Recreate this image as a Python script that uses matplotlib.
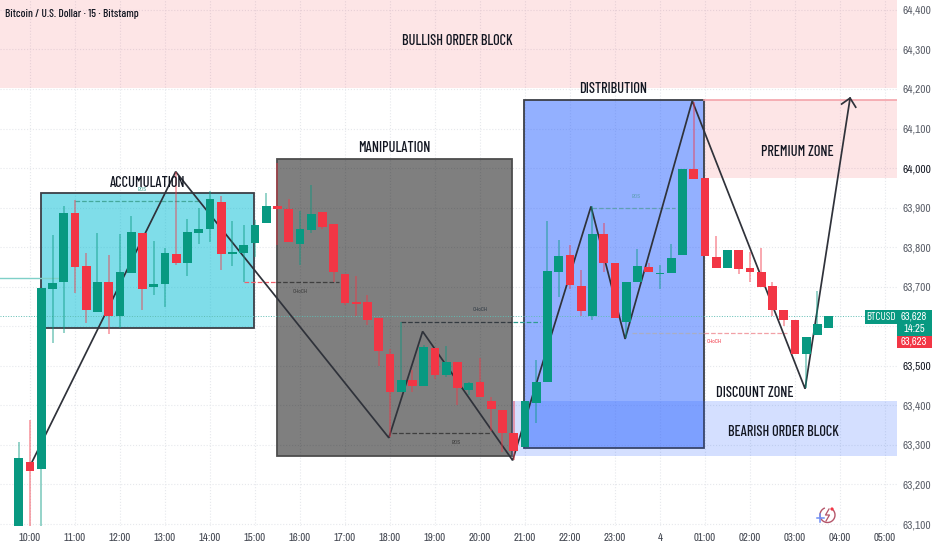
import numpy as np
import matplotlib
matplotlib.use('Agg')
import matplotlib.pyplot as plt
from matplotlib.patches import Rectangle, Circle, Arc

NARROW = ['Archivo Narrow', 'Asap Condensed', 'Roboto', 'DejaVu Sans']
CONDENSED = ['Barlow Condensed', 'Archivo Narrow', 'Roboto', 'DejaVu Sans']
plt.rcParams['font.family'] = NARROW

# Свечи: индекс 0 = 10:00, шаг 15 минут
first_idx = -1
opens = [63080, 63258, 63240, 63695, 63713, 63886, 63753, 63637, 63713, 63625, 63734, 63835, 63700, 63707, 63783,
         63760, 63837, 63846, 63913, 63784, 63786, 63810, 63862, 63905, 63897, 63808, 63844, 63888, 63859, 63733,
         63661, 63662, 63621, 63530, 63433, 63465, 63450, 63545, 63477, 63509, 63440, 63460, 63411, 63389, 63330,
         63294, 63406, 63460, 63738, 63779, 63703, 63625, 63834, 63760, 63611, 63711, 63750, 63731, 63734, 63781,
         63997, 63974, 63776, 63747, 63793, 63747, 63738, 63701, 63642, 63617, 63530, 63577, 63596]
highs = [63308, 63364, 63697, 63831, 63905, 63920, 63786, 63837, 63781, 63833, 63879, 63835, 63816, 63798, 63991,
         63871, 63899, 63943, 63930, 63865, 63855, 63869, 63938, 64013, 63921, 63892, 63958, 63888, 63859, 63733,
         63726, 63678, 63621, 63542, 63612, 63490, 63553, 63545, 63551, 63509, 63460, 63521, 63421, 63389, 63410,
         63410, 63515, 63867, 63819, 63806, 63743, 63903, 63862, 63760, 63712, 63795, 63760, 63755, 63808, 63997,
         64168, 63974, 63829, 63793, 63793, 63787, 63798, 63713, 63642, 63617, 63573, 63688, 63625]
lows = [63080, 63080, 63080, 63557, 63583, 63685, 63608, 63637, 63580, 63595, 63734, 63642, 63678, 63650, 63754,
        63728, 63808, 63813, 63743, 63753, 63712, 63776, 63862, 63806, 63813, 63754, 63835, 63846, 63711, 63655,
        63627, 63604, 63500, 63321, 63433, 63435, 63450, 63466, 63473, 63400, 63427, 63420, 63334, 63281, 63262,
        63294, 63355, 63460, 63675, 63695, 63625, 63615, 63737, 63620, 63570, 63711, 63736, 63695, 63734, 63781,
        63973, 63778, 63747, 63747, 63733, 63712, 63700, 63626, 63601, 63530, 63444, 63577, 63596]
closes = [63267, 63233, 63697, 63709, 63886, 63751, 63640, 63712, 63627, 63737, 63838, 63695, 63707, 63785, 63760,
          63838, 63846, 63921, 63784, 63787, 63806, 63855, 63905, 63897, 63813, 63846, 63884, 63852, 63738, 63660,
          63657, 63617, 63537, 63433, 63465, 63448, 63548, 63477, 63509, 63443, 63456, 63420, 63390, 63329, 63285,
          63410, 63459, 63740, 63778, 63705, 63638, 63834, 63759, 63620, 63712, 63753, 63736, 63735, 63773, 63997,
          63973, 63778, 63747, 63793, 63745, 63737, 63700, 63640, 63616, 63530, 63573, 63605, 63625]

# Зигзаг поверх графика
zig_x = [0.2, 12.95, 31.9, 34.9, 42.9, 49.87, 52.9, 58.87, 68.9, 72.9]
zig_y = [63258, 63991, 63318, 63587, 63261, 63903, 63568, 64170, 63442, 64177]
arrow_x = [72.15, 72.9, 73.4]
arrow_y = [64162, 64177, 64154]

# Подписи осей
x_ticks = list(range(0, 80, 4))
x_labels = ['10:00', '11:00', '12:00', '13:00', '14:00', '15:00', '16:00', '17:00', '18:00', '19:00',
            '20:00', '21:00', '22:00', '23:00', '4', '01:00', '02:00', '03:00', '04:00', '05:00']
y_ticks = list(range(63100, 64500, 100))
bold_prices = [64000, 63500]

last_price = 63625
left_level = 63723

x_min, x_max = -2.667, 77.07
y_min, y_max = 63095, 64425

GREEN = '#089981'
RED = '#f23645'
BLUE = '#2962ff'
DARK = '#3c3f47'

fig = plt.figure(figsize=(9.32, 5.5), dpi=100)
ax = fig.add_axes([0, 24 / 550, 897 / 932, 526 / 550])
ax.set_xlim(x_min, x_max)
ax.set_ylim(y_min, y_max)
for s in ax.spines.values():
    s.set_visible(False)

ax.set_axisbelow(True)
ax.grid(True, ls=':', color='#e6e8ec', lw=0.8)
ax.yaxis.tick_right()
ax.set_xticks(x_ticks)
ax.set_xticklabels(x_labels, fontsize=7.8, color='#3f434d')
ax.set_yticks(y_ticks)
ax.set_yticklabels([f'{p:,}' for p in y_ticks], fontsize=8.1, color='#5a5e68')
ax.tick_params(axis='y', length=0, pad=4)
ax.tick_params(axis='x', length=0, pad=5)
for lab, p in zip(ax.get_yticklabels(), y_ticks):
    if p in bold_prices:
        lab.set_color('#131722')


def zone(x0, x1, p0, p1, color, alpha, edge=None, z=1):
    ax.add_patch(Rectangle((x0, p0), x1 - x0, p1 - p0, facecolor=color, alpha=alpha,
                           edgecolor='none', zorder=z))
    if edge:
        ax.add_patch(Rectangle((x0, p0), x1 - x0, p1 - p0, facecolor='none',
                               edgecolor=edge, lw=1.3, zorder=z + 0.1))


# Зоны
zone(x_min, x_max, 64203, y_max, RED, 0.13)
zone(59.9, x_max, 63975, 64172, RED, 0.13)
ax.plot([59.9, x_max], [64172, 64172], color='#f4a3aa', lw=1.2, zorder=1.2)
zone(0.95, 19.94, 63595, 63937, '#00bcd4', 0.5, DARK)
zone(21.93, 42.87, 63271, 64022, 'black', 0.5, '#4d4d4d')
zone(43.9, 59.88, 63293, 64172, BLUE, 0.5, DARK)
zone(42.85, x_max, 63271, 63410, BLUE, 0.2, z=1.5)

# Горизонтальные уровни
ax.plot([x_min, 2.5], [left_level, left_level], color='#7fd0c8', lw=1, zorder=1.6)
ax.axhline(last_price, color='#5fbdb3', lw=0.7, ls=':', zorder=1.6)

# Пунктирные уровни CHoCH / BOS
ax.plot([4, 15], [63918, 63918], color='#45a89b', lw=0.9, ls='--', zorder=1.7)
ax.plot([19, 21.9], [63711, 63711], color='#f0606c', lw=0.9, ls='--', zorder=1.7)
ax.plot([21.9, 27.5], [63711, 63711], color='#3f3f3f', lw=0.9, ls='--', zorder=1.7)
ax.plot([33, 42.9], [63612, 63612], color='#333a40', lw=0.9, ls='--', zorder=1.7)
ax.plot([42.9, 45.3], [63612, 63612], color='#2f9c90', lw=0.9, ls='--', zorder=1.7)
ax.plot([32.2, 41], [63330, 63330], color='#3f3f3f', lw=0.9, ls='--', zorder=1.7)
ax.plot([50, 57.3], [63899, 63899], color='#5f9fb5', lw=0.9, ls='--', zorder=1.7)
ax.plot([53.5, 59.9], [63584, 63584], color='#a9adc4', lw=0.9, ls='--', zorder=1.7)
ax.plot([59.9, 67.3], [63584, 63584], color='#f2a0a6', lw=0.9, ls='--', zorder=1.7)

tiny = dict(fontsize=3.8, ha='center', va='center', zorder=1.8)
ax.text(10, 63947, 'BOS', color='#45a89b', **tiny)
ax.text(24, 63687, 'CHoCH', color='#3a3a3a', **tiny)
ax.text(40, 63642, 'CHoCH', color='#2f3a44', **tiny)
ax.text(37.9, 63305, 'BOS', color='#3a3a3a', **tiny)
ax.text(53.9, 63927, 'BOS', color='#5f9fb5', **tiny)
ax.text(60.8, 63561, 'CHoCH', color=RED, **tiny)

# Зигзаг под свечами
ax.plot(zig_x, zig_y, color='#2f323a', lw=1.25, zorder=2, solid_joinstyle='miter')
ax.plot(arrow_x, arrow_y, color='#2f323a', lw=1.25, zorder=2)

# Свечи
idx = first_idx + np.arange(len(opens))
opens_a = np.array(opens)
closes_a = np.array(closes)
colors = [GREEN if c >= o else RED for o, c in zip(opens, closes)]
ax.vlines(idx, lows, highs, colors=colors, lw=1.2, alpha=0.5, zorder=3)
ax.bar(idx, np.abs(closes_a - opens_a), bottom=np.minimum(opens_a, closes_a), width=0.77,
       color=colors, edgecolor='none', zorder=4)

# Подписи зон
label = dict(fontsize=10.3, color='#131722', ha='center', va='center', zorder=5, fontweight='medium', family=CONDENSED)
ax.text(37.96, 64322, 'BULLISH ORDER BLOCK', **label)
ax.text(10.44, 63963, 'ACCUMULATION', **label)
ax.text(32.4, 64051, 'MANIPULATION', **label)
ax.text(51.87, 64200, 'DISTRIBUTION', **label)
ax.text(68.2, 64041, 'PREMIUM ZONE', **label)
ax.text(64.4, 63432, 'DISCOUNT ZONE', **label)
ax.text(67.0, 63333, 'BEARISH ORDER BLOCK', **label)

# Служебный слой в пикселях: заголовок, ценники, логотип
ov = fig.add_axes([0, 0, 1, 1], facecolor='none')
ov.set_xlim(0, 932)
ov.set_ylim(550, 0)
ov.axis('off')
ov.text(5, 14, 'Bitcoin / U.S. Dollar · 15 · Bitstamp', fontsize=8.2, color='#131722',
        ha='left', va='center', fontweight='medium', family=CONDENSED)

ov.add_patch(Rectangle((865, 310), 32, 14, facecolor=GREEN, edgecolor='none'))
ov.add_patch(Rectangle((897, 310), 35, 26, facecolor=GREEN, edgecolor='none'))
ov.add_patch(Rectangle((897, 336), 35, 12, facecolor=RED, edgecolor='none'))
tag = dict(fontsize=7.6, color='white', ha='center', va='center')
ov.text(881, 317, 'BTCUSD', fontsize=8, color='white', ha='center', va='center', family=CONDENSED)
ov.text(914, 316.5, '63,628', **tag)
ov.text(914, 329.5, '14:25', **tag)
ov.text(914, 342, '63,623', **tag)

# Логотип
ov.add_patch(Arc((827.5, 515), 15, 15, theta1=-60, theta2=250, color='#b5566a', lw=1))
ov.plot([829, 825.5, 829.5, 826], [509, 515, 515, 521], color='#b5566a', lw=0.9)
ov.add_patch(Circle((832, 509), 1.6, color=RED, lw=0))
ov.plot([820, 820], [514, 522], color='#6f8ff5', lw=1.1)
ov.plot([816.5, 824], [518, 518], color='#6f8ff5', lw=1.1)

fig.savefig('out.png', dpi=100)
